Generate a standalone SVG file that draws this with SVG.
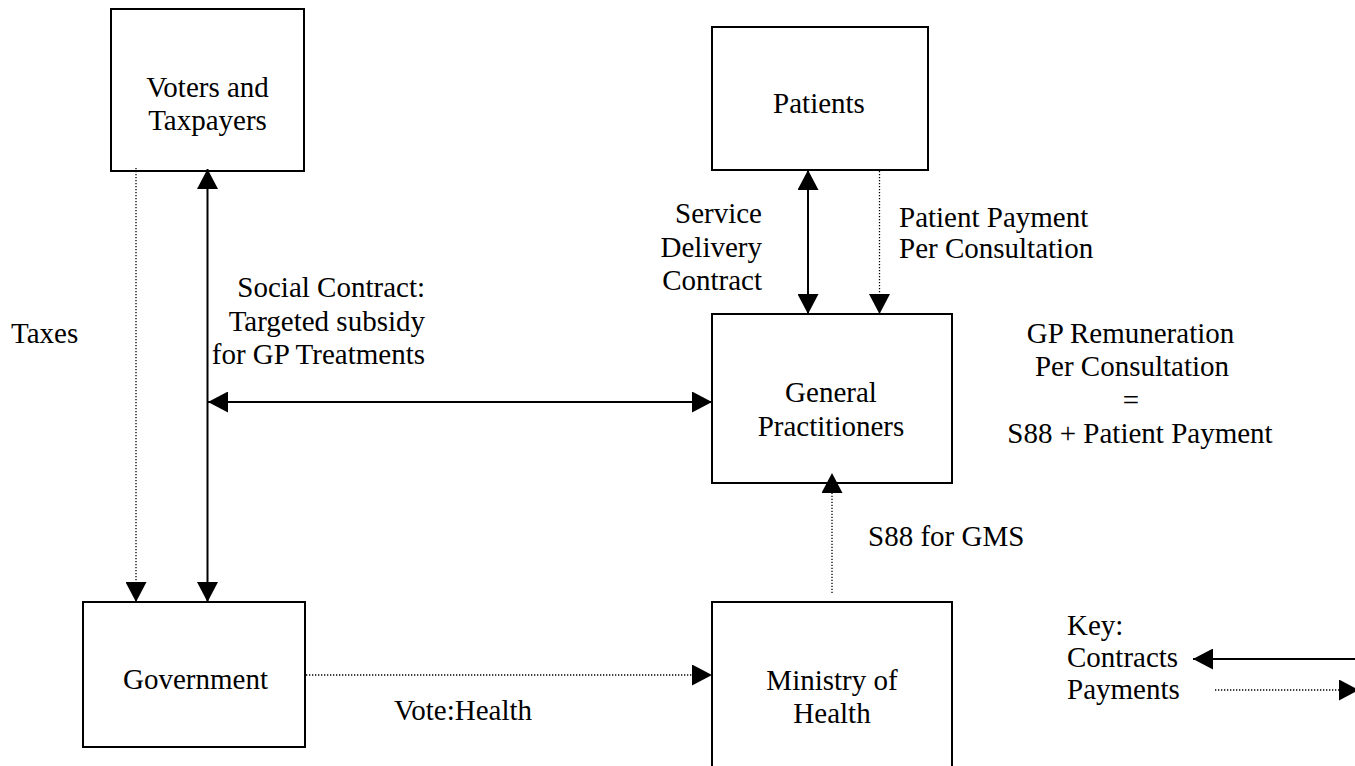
<svg xmlns="http://www.w3.org/2000/svg" width="1355" height="766" viewBox="0 0 1355 766">
<style>
  text { font-family: "Liberation Serif", "Times New Roman", serif; font-size: 29px; fill: #000; }
  .c { text-anchor: middle; }
  .r { text-anchor: end; }
  .box { fill: #fff; stroke: #000; stroke-width: 2; }
  .solid { fill: none; stroke: #000; stroke-width: 2; }
  .dot { fill: none; stroke: #000; stroke-width: 1.3; stroke-dasharray: 1.3 1.7; }
</style>
<defs>
  <marker id="ah" markerUnits="userSpaceOnUse" markerWidth="20" markerHeight="21" refX="20" refY="10.5" orient="auto-start-reverse" viewBox="0 0 20 21">
    <path d="M0,0 L20,10.5 L0,21 Z" fill="#000"/>
  </marker>
</defs>
<rect width="1355" height="766" fill="#fff"/>

<g id="voters">
  <rect class="box" x="111" y="9" width="193" height="162"/>
  <text class="c" x="207.5" y="97">Voters and</text>
  <text class="c" x="207.5" y="130">Taxpayers</text>
</g>
<g id="patients">
  <rect class="box" x="712" y="27" width="216" height="143"/>
  <text class="c" x="819" y="113">Patients</text>
</g>
<g id="gp">
  <rect class="box" x="712" y="314" width="240" height="169"/>
  <text class="c" x="831" y="402">General</text>
  <text class="c" x="831" y="436">Practitioners</text>
</g>
<g id="government">
  <rect class="box" x="83" y="602" width="222" height="145"/>
  <text class="c" x="195.5" y="689">Government</text>
</g>
<g id="ministry">
  <rect class="box" x="712" y="602" width="240" height="190"/>
  <text class="c" x="832" y="690">Ministry of</text>
  <text class="c" x="832" y="723">Health</text>
</g>

<g id="connectors">
  <line class="dot" x1="136" y1="168" x2="136" y2="602" marker-end="url(#ah)"/>
  <line class="solid" x1="207.5" y1="169" x2="207.5" y2="602" marker-start="url(#ah)" marker-end="url(#ah)"/>
  <line class="solid" x1="208" y1="402" x2="712" y2="402" marker-start="url(#ah)" marker-end="url(#ah)"/>
  <line class="solid" x1="808" y1="170" x2="808" y2="314" marker-start="url(#ah)" marker-end="url(#ah)"/>
  <line class="dot" x1="879.5" y1="171" x2="879.5" y2="314" marker-end="url(#ah)"/>
  <line class="dot" x1="306" y1="675" x2="712" y2="675" marker-end="url(#ah)"/>
  <line class="dot" x1="832" y1="593" x2="832" y2="473" marker-end="url(#ah)"/>
  <line class="solid" x1="1360" y1="659" x2="1193" y2="659" marker-end="url(#ah)"/>
  <line class="dot" x1="1215" y1="690" x2="1359" y2="690" marker-end="url(#ah)"/>
</g>

<g id="labels">
  <text x="11" y="343">Taxes</text>
  <text class="r" x="425" y="297">Social Contract:</text>
  <text class="r" x="425" y="331">Targeted subsidy</text>
  <text class="r" x="425" y="364">for GP Treatments</text>
  <text class="r" x="762" y="223">Service</text>
  <text class="r" x="762" y="257">Delivery</text>
  <text class="r" x="762" y="290">Contract</text>
  <text x="899" y="227">Patient Payment</text>
  <text x="899" y="258">Per Consultation</text>
  <text class="c" x="1130.5" y="343">GP Remuneration</text>
  <text class="c" x="1132" y="376">Per Consultation</text>
  <text class="c" x="1131" y="410">=</text>
  <text class="c" x="1140" y="443">S88 + Patient Payment</text>
  <text x="868" y="546">S88 for GMS</text>
  <text x="394" y="720">Vote:Health</text>
  <text x="1067" y="635">Key:</text>
  <text x="1067" y="667">Contracts</text>
  <text x="1067" y="699">Payments</text>
</g>
</svg>
